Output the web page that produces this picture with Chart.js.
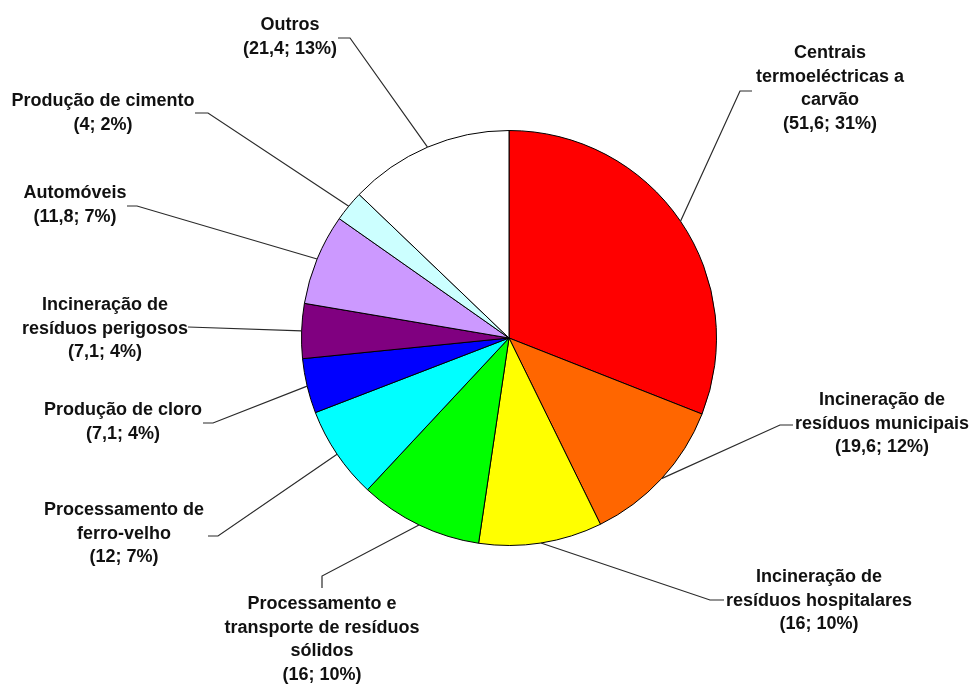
<!DOCTYPE html>
<html lang="pt">
<head>
<meta charset="utf-8">
<title>Emissões por fonte</title>
<script src="https://cdn.jsdelivr.net/npm/chart.js@4/dist/chart.umd.min.js"></script>
<style>
  html, body { margin: 0; padding: 0; background: #fff; }
  #wrap { width: 969px; height: 684px; }
</style>
</head>
<body>
<div id="wrap"><canvas id="pie" width="969" height="684"></canvas></div>
<script>
// sources, one array of text lines per slice
const categories = [
  ['Centrais', 'termoeléctricas a', 'carvão'],
  ['Incineração de', 'resíduos municipais'],
  ['Incineração de', 'resíduos hospitalares'],
  ['Processamento e', 'transporte de resíduos', 'sólidos'],
  ['Processamento de', 'ferro-velho'],
  ['Produção de cloro'],
  ['Incineração de', 'resíduos perigosos'],
  ['Automóveis'],
  ['Produção de cimento'],
  ['Outros']
];
const values = [51.6, 19.6, 16, 16, 12, 7.1, 7.1, 11.8, 4, 21.4];
const colors = ['#ff0000', '#ff6600', '#ffff00', '#00ff00', '#00ffff',
                '#0000ff', '#800080', '#cc99ff', '#ccffff', '#ffffff'];

// where each label block sits and the bend of its leader line
const labelLayout = [
  { cx: 830, y: 53,  bend: [[740, 91], [752, 91]] },
  { cx: 882, y: 400, bend: [[780, 425], [793, 425]] },
  { cx: 819, y: 577, bend: [[710, 600], [724, 600]] },
  { cx: 322, y: 604, bend: [[322, 576], [322, 588]] },
  { cx: 124, y: 510, bend: [[218, 536], [208, 536]] },
  { cx: 123, y: 410, bend: [[213, 423], [203, 423]] },
  { cx: 105, y: 305, bend: [[188, 327]] },
  { cx: 75,  y: 193, bend: [[137, 206], [127, 206]] },
  { cx: 103, y: 101, bend: [[208, 113], [195, 113]] },
  { cx: 290, y: 25,  bend: [[350, 38], [338, 38]] }
];

const total = values.reduce((a, b) => a + b, 0);
const fmt = v => String(v).replace('.', ',');

const leaderLabels = {
  id: 'leaderLabels',
  afterDraw(chart) {
    const ctx = chart.ctx;
    const arcs = chart.getDatasetMeta(0).data;
    ctx.save();
    arcs.forEach((arc, i) => {
      const p = arc.getProps(['x', 'y', 'startAngle', 'endAngle', 'outerRadius'], true);
      const mid = (p.startAngle + p.endAngle) / 2;
      const lay = labelLayout[i];

      // leader line from the slice edge to the label
      ctx.strokeStyle = '#2a2a2a';
      ctx.lineWidth = 1.2;
      ctx.beginPath();
      ctx.moveTo(p.x + Math.cos(mid) * p.outerRadius, p.y + Math.sin(mid) * p.outerRadius);
      lay.bend.forEach(pt => ctx.lineTo(pt[0], pt[1]));
      ctx.stroke();

      // label text: name lines plus "(value; pct%)"
      const pct = Math.round(values[i] / total * 100);
      const lines = categories[i].concat('(' + fmt(values[i]) + '; ' + pct + '%)');
      ctx.fillStyle = '#111';
      ctx.font = 'bold 18px "Liberation Sans", Arial, sans-serif';
      ctx.textAlign = 'center';
      ctx.textBaseline = 'middle';
      lines.forEach((t, k) => ctx.fillText(t, lay.cx, lay.y + k * 23.7));
    });
    ctx.restore();
  }
};

new Chart(document.getElementById('pie'), {
  type: 'pie',
  data: {
    labels: categories.map(c => c.join(' ')),
    datasets: [{
      data: values,
      backgroundColor: colors,
      borderColor: '#000',
      borderWidth: 1
    }]
  },
  options: {
    responsive: false,
    animation: false,
    layout: { padding: { left: 301, right: 252, top: 130, bottom: 138 } },
    plugins: {
      legend: { display: false },
      tooltip: { enabled: false }
    }
  },
  plugins: [leaderLabels]
});
</script>
</body>
</html>
